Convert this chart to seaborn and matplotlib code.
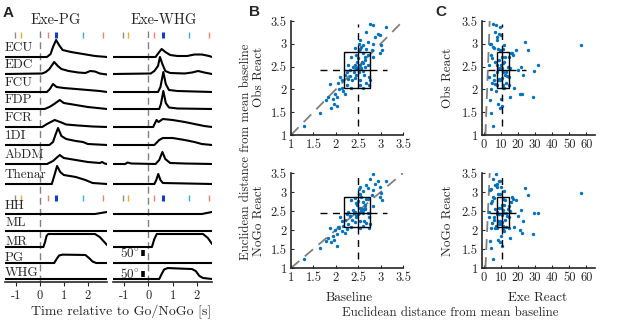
import numpy as np
import pandas as pd
import matplotlib
matplotlib.use("Agg")
import matplotlib.pyplot as plt
from matplotlib.patches import Rectangle
import matplotlib.transforms as mtrans
import seaborn as sns

# ---------------- data: panel A (event times, traces) ----------------
event_times_pg = [-1.04, -0.79, 0.35, 0.69, 1.78, 2.64]
event_times_whg = [-1.05, -0.82, 0.25, 0.59, 1.67, 2.50]
event_colors = ["#8c8c8c", "#f0a830", "#f08070", "#1040c0", "#30b0e8", "#f08070"]

muscles = ["ECU", "EDC", "FCU", "FDP", "FCR", "1DI", "AbDM", "Thenar"]
kinematics = ["HH", "ML", "MR", "PG", "WHG"]

# EMG traces (arbitrary units), (time s, value)
PG_ECU = [(-1.45, 0), (0.3, 0), (0.45, 3), (0.55, 10), (0.68, 17), (0.8, 12), (0.95, 7), (1.3, 5), (1.8, 3), (2.3, 1), (2.8, 0)]
PG_EDC = [(-1.45, 0), (0.1, 0.5), (0.25, 2), (0.4, 5), (0.6, 12), (0.75, 8), (0.9, 5), (1.2, 3), (1.6, 1.5), (1.9, 1), (2.1, 3), (2.3, 2.5), (2.5, 0.5), (2.8, -0.5)]
PG_FCU = [(-1.45, 0), (0.3, 0), (0.42, 3), (0.55, 8), (0.7, 5), (1.0, 4), (1.5, 3), (2.0, 2), (2.5, 1), (2.8, 0)]
PG_FDP = [(-1.45, 0), (0.2, 0), (0.4, 2), (0.6, 5), (0.83, 9), (1.0, 6), (1.5, 4), (2.0, 2), (2.8, 0)]
PG_FCR = [(-1.45, 0), (0.1, 0), (0.3, 3), (0.62, 7), (0.85, 5), (1.1, 2.5), (1.6, 1.5), (2.2, 0.5), (2.8, 0)]
PG_1DI = [(-1.45, 0), (0.4, 0), (0.55, 3), (0.65, 10), (0.76, 17), (0.9, 9), (1.1, 6), (1.5, 4), (1.8, 3), (2.0, 1), (2.8, 0)]
PG_AbDM = [(-1.45, 0), (0.3, 0), (0.55, 3), (0.83, 9), (1.0, 6), (1.5, 4), (2.0, 2), (2.5, 1), (2.6, 2), (2.7, 0.5), (2.8, 0)]
PG_Thenar = [(-1.45, 0), (0.5, 0), (0.6, 8), (0.72, 18), (0.85, 12), (1.0, 9), (1.5, 7), (1.9, 4), (2.2, 1), (2.8, 0)]

WHG_ECU = [(-1.45, 0), (0.3, 0), (0.45, 5), (0.55, 8), (0.7, 5), (0.9, 2), (1.2, 1), (1.6, 1), (1.9, 2.5), (2.2, 2.5), (2.5, 1), (2.62, 0)]
WHG_EDC = [(-1.45, 0), (0.1, 0.5), (0.25, 3), (0.4, 8), (0.48, 17), (0.58, 10), (0.7, 3), (0.9, 1), (1.5, 0.5), (1.8, 1.5), (2.05, 3), (2.3, 1.5), (2.62, 0)]
WHG_FCU = [(-1.45, 0), (0.4, 0), (0.5, 5), (0.62, 20), (0.72, 8), (0.85, 2), (1.2, 1), (2.62, 0)]
WHG_FDP = [(-1.45, 0), (0.45, 0), (0.52, 5), (0.62, 18), (0.72, 6), (0.85, 1.5), (1.2, 0.5), (2.62, 0)]
WHG_FCR = [(-1.45, 0), (0.2, 0), (0.34, 7), (0.42, 5), (0.6, 8), (1.0, 7), (1.5, 5), (1.9, 3), (2.3, 1), (2.62, 0)]
WHG_1DI = [(-1.45, 0), (0.25, 0), (0.45, 5), (0.6, 7), (1.0, 7), (1.5, 5), (1.9, 3), (2.2, 1), (2.62, 0)]
WHG_AbDM = [(-1.45, 0), (-0.95, 0), (-0.85, 1.5), (-0.7, 0.5), (0.3, 0), (0.45, 4), (0.58, 12), (0.7, 5), (0.9, 1), (1.5, 0.5), (2.62, 0)]
WHG_Thenar = [(-1.45, 0), (0.25, 0), (0.33, 4), (0.41, 10), (0.5, 4), (0.6, 1), (2.62, 0)]

# kinematic traces (degrees)
PG_HH = [(-1.45, 0), (2.3, 0), (2.8, 18)]
PG_ML = [(-1.45, 0), (2.8, 0)]
PG_MR = [(-1.45, 0), (0.15, 0), (0.22, 45), (0.28, 97), (0.35, 115), (2.3, 115), (2.5, 88), (2.65, 53), (2.8, 18)]
PG_PG = [(-1.45, 0), (0.6, 0), (0.7, 35), (0.8, 66), (0.95, 74), (1.9, 71), (2.05, 44), (2.2, 13), (2.35, 0), (2.8, 0)]
PG_WHG = [(-1.45, 0), (2.8, 0)]
WHG_HH = [(-1.45, 0), (2.2, 0), (2.62, 18)]
WHG_ML = [(-1.45, 0), (2.62, 0)]
WHG_MR = [(-1.45, 0), (0.15, 0), (0.25, 71), (0.35, 115), (2.25, 115), (2.45, 80), (2.62, 27)]
WHG_PG = [(-1.45, 0), (2.62, 0)]
WHG_WHG = [(-1.45, 0), (0.45, 0), (0.55, 44), (0.65, 84), (0.8, 97), (1.8, 88), (1.95, 71), (2.1, 27), (2.25, 9), (2.62, 0)]

scale_bar_deg = 50

# ---------------- data: panels B and C ----------------
baseline = [1.30, 1.65, 1.78, 1.83, 1.90, 1.96, 2.02, 1.87, 1.94, 1.98,
            2.03, 2.08, 2.13, 2.16, 2.20, 2.09, 2.24, 2.28, 2.31, 2.35,
            2.37, 2.40, 2.42, 2.46, 2.48, 2.50, 2.51, 2.52, 2.54, 2.57,
            2.60, 2.61, 2.63, 2.65, 2.66, 2.68, 2.71, 2.72, 2.74, 2.77,
            2.80, 2.82, 2.83, 2.87, 2.83, 2.77, 2.94, 2.98, 3.02, 3.04,
            3.13, 2.98, 2.46, 2.42, 2.35, 2.28, 2.31, 2.24, 2.20, 2.13,
            2.05, 2.54, 2.55, 2.61, 2.67, 2.73, 2.65, 2.72, 2.59, 2.54,
            2.50, 2.57, 2.61, 2.46, 2.42, 2.52, 2.39, 2.55, 2.61, 2.68]
obs_react = [1.20, 1.49, 1.77, 1.84, 1.60, 1.68, 1.64, 2.12, 1.80, 1.90,
             1.84, 2.00, 2.03, 1.97, 1.91, 2.28, 2.09, 2.22, 2.29, 2.04,
             2.20, 2.38, 2.53, 2.46, 2.60, 2.68, 2.86, 3.00, 3.08, 2.93,
             2.79, 2.41, 2.31, 2.49, 2.64, 2.89, 3.04, 2.53, 2.28, 2.20,
             2.86, 2.71, 3.00, 3.15, 3.41, 3.44, 3.22, 3.19, 2.97, 2.86,
             3.37, 2.79, 2.75, 2.90, 2.71, 2.53, 2.42, 2.38, 2.31, 2.20,
             2.13, 2.20, 2.09, 2.04, 2.13, 2.09, 2.71, 2.75, 2.60, 2.53,
             2.46, 2.46, 2.57, 2.31, 2.26, 2.38, 2.49, 2.89, 2.97, 3.26]
nogo_react = [1.24, 1.52, 1.72, 1.80, 1.68, 1.75, 1.58, 2.05, 1.85, 2.01,
              1.90, 2.06, 1.97, 2.10, 1.93, 2.33, 2.02, 2.17, 2.36, 2.09,
              2.26, 2.44, 2.48, 2.40, 2.65, 2.77, 2.95, 3.07, 3.13, 2.87,
              2.73, 2.46, 2.25, 2.55, 2.58, 2.82, 3.10, 2.45, 2.33, 2.15,
              2.92, 2.64, 3.05, 3.22, 3.47, 3.35, 3.30, 3.12, 2.97, 2.80,
              3.28, 2.87, 2.70, 2.84, 2.78, 2.48, 2.37, 2.43, 2.27, 2.24,
              2.08, 2.25, 2.04, 2.10, 2.18, 2.05, 2.66, 2.81, 2.55, 2.58,
              2.42, 2.51, 2.52, 2.35, 2.21, 2.44, 2.53, 2.95, 3.02, 3.18]
exe_react = [5.5, 4.5, 3.5, 15.4, 9.5, 8.5, 10.5, 6.5, 10.0, 21.3,
             29.0, 4.0, 12.0, 7.0, 22.2, 3.0, 11.0, 9.0, 13.5, 17.5,
             6.0, 11.5, 8.0, 10.5, 12.0, 5.0, 9.5, 4.0, 7.5, 5.5,
             16.0, 29.5, 23.2, 14.0, 9.0, 11.0, 24.2, 31.7, 14.5, 10.0,
             25.6, 15.0, 3.5, 8.0, 7.0, 5.5, 9.0, 10.0, 57.0, 19.0,
             9.5, 16.5, 4.5, 6.0, 12.5, 3.0, 20.0, 7.5, 12.5, 8.5,
             13.0, 9.5, 14.5, 11.0, 5.0, 8.0, 10.5, 17.0, 6.5, 10.0,
             9.0, 15.5, 11.5, 6.0, 10.5, 13.0, 22.0, 8.5, 12.0, 6.5]

# box summaries: [whisker low, q1, median, q3, whisker high]
box_baseline = [1.65, 2.18, 2.50, 2.77, 3.14]
box_obs = [1.20, 2.04, 2.43, 2.81, 3.43]
box_nogo = [1.24, 2.07, 2.44, 2.87, 3.50]
box_exe_obs = [2.5, 8.0, 10.4, 15.0, 24.6]
box_exe_nogo = [3.5, 8.0, 10.4, 15.0, 21.8]

# ---------------- styling ----------------
sns.set_style("ticks")
plt.rcParams["font.family"] = ["cmr10", "DejaVu Serif"]
plt.rcParams["mathtext.fontset"] = "cm"
plt.rcParams["axes.unicode_minus"] = False
plt.rcParams["axes.formatter.use_mathtext"] = True

W, H = 617, 324
fig = plt.figure(figsize=(W / 100, H / 100), dpi=100)


def ax_px(left, top, right, bottom):
    return fig.add_axes([left / W, 1 - bottom / H, (right - left) / W, (bottom - top) / H])


def ftext(x, y, s, **kw):
    fig.text(x / W, 1 - y / H, s, **kw)


# ---------------- panel A ----------------
emg_offsets = [225, 208, 190, 173, 155, 137, 118, 98]
kin_offsets = [68, 51, 35, 19, 3]
label_dy_emg = 9
label_dy_kin = [8, 8, 5, 5, 6]
marker_rows = [247, 84]
deg_scale = 0.113

cols = [
    dict(rect=(5, 28, 107, 282), xlim=(-1.45, 2.8), events=event_times_pg,
         emg=[PG_ECU, PG_EDC, PG_FCU, PG_FDP, PG_FCR, PG_1DI, PG_AbDM, PG_Thenar],
         kin=[PG_HH, PG_ML, PG_MR, PG_PG, PG_WHG]),
    dict(rect=(113, 28, 212, 282), xlim=(-1.45, 2.62), events=event_times_whg,
         emg=[WHG_ECU, WHG_EDC, WHG_FCU, WHG_FDP, WHG_FCR, WHG_1DI, WHG_AbDM, WHG_Thenar],
         kin=[WHG_HH, WHG_ML, WHG_MR, WHG_PG, WHG_WHG]),
]

for ci, c in enumerate(cols):
    ax = ax_px(*c["rect"])
    ax.set_xlim(*c["xlim"])
    ax.set_ylim(0, 254)
    for off, tr in zip(emg_offsets, c["emg"]):
        t = [p[0] for p in tr]
        v = [p[1] + off for p in tr]
        sns.lineplot(x=t, y=v, ax=ax, color="k", lw=1.5, estimator=None, sort=False)
    for off, tr in zip(kin_offsets, c["kin"]):
        t = [p[0] for p in tr]
        v = [p[1] * deg_scale + off for p in tr]
        sns.lineplot(x=t, y=v, ax=ax, color="k", lw=1.5, estimator=None, sort=False)
    ax.plot([0, 0], [0, 251], color="#808080", lw=1.0, ls=(0, (5, 3)), zorder=0)
    for row in marker_rows:
        for et, ec in zip(c["events"], event_colors):
            lw = 2.2 if ec == "#1040c0" else 1.0
            ax.plot([et, et], [row - 3.3, row + 3.3], color=ec, lw=lw, solid_capstyle="butt")
    ax.set_yticks([])
    for s in ["left", "right", "top"]:
        ax.spines[s].set_visible(False)
    ax.spines["bottom"].set_linewidth(1.2)
    ax.set_xticks([-1, 0, 1, 2])
    ax.set_xticklabels(["-1", "0", "1", "2"], fontsize=9)
    ax.tick_params(axis="x", direction="out", length=3, width=0.8, pad=3)
    ax.set_facecolor("none")
    trans = mtrans.blended_transform_factory(ax.transAxes, ax.transData)
    if ci == 0:
        for name, off in zip(muscles, emg_offsets):
            ax.text(0.0, off + label_dy_emg, name, transform=trans, fontsize=9.5, ha="left", va="center")
        for name, off, dy in zip(kinematics, kin_offsets, label_dy_kin):
            ax.text(0.0, off + dy, name, transform=trans, fontsize=9.5, ha="left", va="center")
    else:
        for off, base in [(kin_offsets[3], 7), (kin_offsets[4], 2.3)]:
            y0 = off + base
            y1 = y0 + scale_bar_deg * deg_scale
            ax.plot([-0.22, -0.22], [y0, y1], color="k", lw=2.6, solid_capstyle="butt")
            ax.text(-0.33, (y0 + y1) / 2, r"50$^{\circ}$", fontsize=9.5, ha="right", va="center")

ftext(56, 20, "Exe-PG", fontsize=10.5, ha="center", va="center")
ftext(164, 20, "Exe-WHG", fontsize=10.5, ha="center", va="center")
ftext(121, 312, "Time relative to Go/NoGo [s]", fontsize=10, ha="center", va="center")

# ---------------- panels B and C ----------------
dot_color = "#0072BD"


def scatter_panel(rect, x, y, xlim, xticks, xticklabels, bx, by):
    ax = ax_px(*rect)
    sns.scatterplot(x=x, y=y, ax=ax, s=6, color=dot_color, linewidth=0, zorder=3)
    ax.plot([1, 3.5], [1, 3.5], color="#808080", lw=1.3, ls=(0, (6, 4)), zorder=2)
    ax.add_patch(Rectangle((bx[1], by[1]), bx[3] - bx[1], by[3] - by[1], fill=False,
                           ec="k", lw=1.0, zorder=4))
    ax.plot([bx[1], bx[3]], [by[2], by[2]], color="k", lw=1.0, zorder=4)
    ax.plot([bx[2], bx[2]], [by[1], by[3]], color="k", lw=1.0, zorder=4)
    dash = (0, (5, 4))
    ax.plot([bx[0], bx[1]], [by[2], by[2]], color="k", lw=1.0, ls=dash, zorder=4)
    ax.plot([bx[3], bx[4]], [by[2], by[2]], color="k", lw=1.0, ls=dash, zorder=4)
    ax.plot([bx[2], bx[2]], [by[0], by[1]], color="k", lw=1.0, ls=dash, zorder=4)
    ax.plot([bx[2], bx[2]], [by[3], by[4]], color="k", lw=1.0, ls=dash, zorder=4)
    ax.set_xlim(*xlim)
    ax.set_ylim(1, 3.5)
    ax.set_xticks(xticks)
    ax.set_xticklabels(xticklabels, fontsize=9)
    ax.set_yticks([1, 1.5, 2, 2.5, 3, 3.5])
    ax.set_yticklabels(["1", "1.5", "2", "2.5", "3", "3.5"], fontsize=9)
    ax.tick_params(direction="in", length=2.5, width=0.8, pad=3)
    for s in ["right", "top"]:
        ax.spines[s].set_visible(False)
    for s in ["left", "bottom"]:
        ax.spines[s].set_linewidth(1.2)
    ax.set_facecolor("none")
    return ax


bticks = [1, 1.5, 2, 2.5, 3, 3.5]
blabels = ["1", "1.5", "2", "2.5", "3", "3.5"]
cticks = [0, 10, 20, 30, 40, 50, 60]
clabels = [str(v) for v in cticks]

scatter_panel((291, 21, 403, 135), baseline, obs_react, (1, 3.5), bticks, blabels, box_baseline, box_obs)
scatter_panel((291, 173, 403, 268), baseline, nogo_react, (1, 3.5), bticks, blabels, box_baseline, box_nogo)
scatter_panel((482, 21, 595, 135), exe_react, obs_react, (-1, 65), cticks, clabels, box_exe_obs, box_obs)
scatter_panel((482, 173, 595, 268), exe_react, nogo_react, (-1, 65), cticks, clabels, box_exe_nogo, box_nogo)

ftext(246, 152, "Euclidean distance from mean baseline", fontsize=9.2, rotation=90, ha="center", va="center")
ftext(259, 77, "Obs React", fontsize=9.5, rotation=90, ha="center", va="center")
ftext(259, 221, "NoGo React", fontsize=9.5, rotation=90, ha="center", va="center")
ftext(448, 78, "Obs React", fontsize=9.5, rotation=90, ha="center", va="center")
ftext(448, 221, "NoGo React", fontsize=9.5, rotation=90, ha="center", va="center")
ftext(349, 298, "Baseline", fontsize=9.5, ha="center", va="center")
ftext(538, 298, "Exe React", fontsize=9.5, ha="center", va="center")
ftext(450, 313, "Euclidean distance from mean baseline", fontsize=9.2, ha="center", va="center")

for x, y, s in [(8, 13, "A"), (254, 12, "B"), (441, 12, "C")]:
    ftext(x, y, s, fontsize=11, fontweight="bold", family="Liberation Sans", ha="center", va="center")

fig.savefig("out.png", dpi=100)
